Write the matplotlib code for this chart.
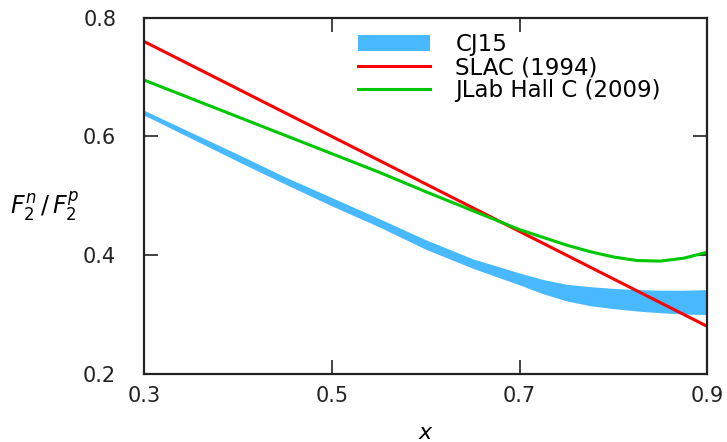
import matplotlib
matplotlib.use("Agg")
import matplotlib.pyplot as plt

plt.rcParams["font.family"] = ["DejaVu Sans"]
plt.rcParams["mathtext.fontset"] = "dejavusans"

# CJ15 ratio band (central value and half-width)
cj_x = [0.30, 0.35, 0.40, 0.45, 0.50, 0.55, 0.60, 0.65, 0.70, 0.725, 0.75,
        0.775, 0.80, 0.825, 0.85, 0.875, 0.90]
cj_mid = [0.640, 0.602, 0.564, 0.526, 0.490, 0.455, 0.418, 0.386, 0.360, 0.347,
          0.337, 0.331, 0.327, 0.324, 0.322, 0.321, 0.321]
cj_err = [0.004, 0.005, 0.006, 0.006, 0.007, 0.007, 0.008, 0.008, 0.010, 0.012,
          0.014, 0.016, 0.017, 0.018, 0.019, 0.020, 0.021]

# SLAC (1994) parametrisation
slac_x = [0.30, 0.45, 0.60, 0.75, 0.90]
slac_y = [0.760, 0.640, 0.520, 0.400, 0.280]

# JLab Hall C (2009) parametrisation
jlab_x = [0.30, 0.35, 0.40, 0.45, 0.50, 0.55, 0.60, 0.65, 0.70, 0.725, 0.75,
          0.775, 0.80, 0.825, 0.85, 0.875, 0.90]
jlab_y = [0.695, 0.664, 0.633, 0.602, 0.571, 0.540, 0.507, 0.475, 0.443, 0.430,
          0.417, 0.406, 0.397, 0.391, 0.390, 0.395, 0.405]

fig = plt.figure(figsize=(7.27, 4.42), dpi=100)
ax = fig.add_axes([0.198, 0.154, 0.775, 0.806])

lo = [m - e for m, e in zip(cj_mid, cj_err)]
hi = [m + e for m, e in zip(cj_mid, cj_err)]
ax.fill_between(cj_x, lo, hi, color="#48b9ff", lw=0, label="CJ15")
ax.plot(slac_x, slac_y, color="#ff0000", lw=2.2, label="SLAC (1994)")
ax.plot(jlab_x, jlab_y, color="#00c800", lw=2.2, label="JLab Hall C (2009)")

ax.set_xlim(0.3, 0.9)
ax.set_ylim(0.2, 0.8)
ax.set_xticks([0.3, 0.5, 0.7, 0.9])
ax.set_xticklabels(["0.3", "0.5", "0.7", "0.9"])
ax.set_yticks([0.2, 0.4, 0.6, 0.8])
ax.set_yticklabels(["0.2", "0.4", "0.6", "0.8"])
ax.tick_params(direction="in", length=10, width=1.2, top=True, right=True,
               labelsize=15, pad=9, colors="#222222")
ax.tick_params(axis="y", pad=20)
for s in ax.spines.values():
    s.set_linewidth(1.6)
    s.set_color("#222222")

ax.set_xlabel(r"$x$", fontsize=16, labelpad=12)
ax.set_ylabel(r"$F_2^n\,/\,F_2^p$", fontsize=17, rotation=0, va="center")
ax.yaxis.set_label_coords(-0.176, 0.47)

ax.legend(loc="upper left", bbox_to_anchor=(0.38, 0.956), frameon=False,
          fontsize=16.5, handlelength=3.15, handletextpad=1.1, labelspacing=0.0,
          borderpad=0, borderaxespad=0)

fig.savefig("out.png", dpi=100)
